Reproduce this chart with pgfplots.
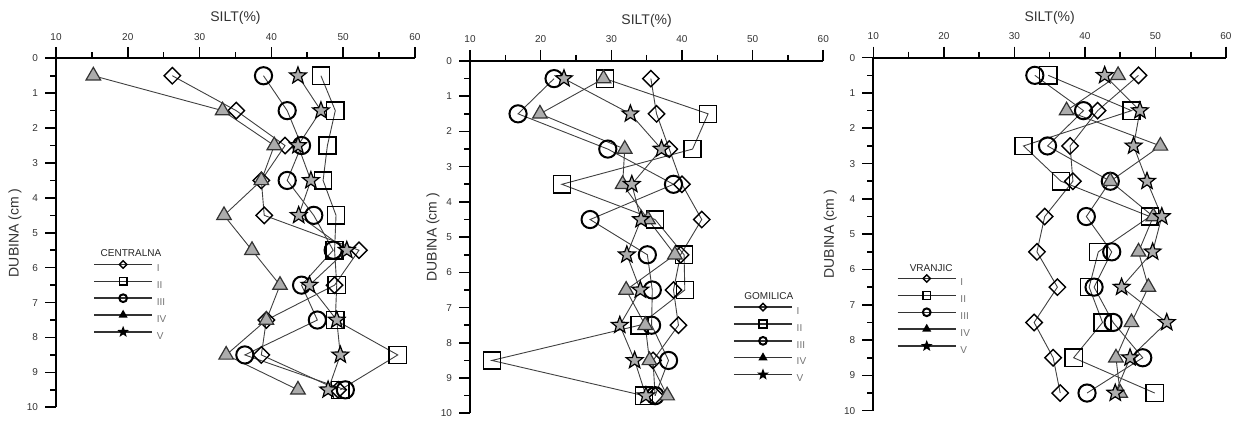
\documentclass[border=0pt]{standalone}
\usepackage{fontspec}
\setmainfont{Liberation Sans}
\usepackage{pgfplots}
\pgfplotsset{compat=1.18}
\usepackage{pgfplotstable}
\usetikzlibrary{plotmarks}

\pgfdeclareplotmark{fivestar}{%
  \pgfpathmoveto{\pgfpointpolar{90}{\pgfplotmarksize}}%
  \pgfpathlineto{\pgfpointpolar{126}{0.42\pgfplotmarksize}}%
  \pgfpathlineto{\pgfpointpolar{162}{\pgfplotmarksize}}%
  \pgfpathlineto{\pgfpointpolar{198}{0.42\pgfplotmarksize}}%
  \pgfpathlineto{\pgfpointpolar{234}{\pgfplotmarksize}}%
  \pgfpathlineto{\pgfpointpolar{270}{0.42\pgfplotmarksize}}%
  \pgfpathlineto{\pgfpointpolar{306}{\pgfplotmarksize}}%
  \pgfpathlineto{\pgfpointpolar{342}{0.42\pgfplotmarksize}}%
  \pgfpathlineto{\pgfpointpolar{18}{\pgfplotmarksize}}%
  \pgfpathlineto{\pgfpointpolar{54}{0.42\pgfplotmarksize}}%
  \pgfpathclose
  \pgfusepathqfillstroke
}

\pgfplotstableread{
d I II III IV V
0.5 26.2 46.9 38.9 15.2 43.7
1.5 35.1 48.9 42.2 33.2 46.9
2.5 41.9 47.8 44.2 40.4 43.7
3.5 38.6 47.2 42.2 38.6 45.5
4.5 39.0 49.0 45.9 33.4 43.8
5.5 52.2 48.8 48.6 37.3 50.5
6.5 48.8 49.1 44.2 41.2 45.3
7.5 39.3 48.9 46.4 39.3 49.1
8.5 38.6 57.6 36.3 33.7 49.6
9.5 49.3 49.6 50.3 43.7 47.9
}\tcen

\pgfplotstableread{
d I II III IV V
0.5 35.6 29.1 21.9 28.9 23.3
1.5 36.4 43.7 16.8 19.9 32.7
2.5 38.2 41.5 29.5 31.9 37.1
3.5 40.0 23.0 38.8 31.6 32.9
4.5 42.8 36.2 27.0 35.2 34.2
5.5 39.8 40.3 35.1 39.0 32.2
6.5 38.8 40.4 35.8 32.1 34.1
7.5 39.5 34.0 35.7 34.8 31.2
8.5 35.9 13.1 38.1 35.4 33.3
9.5 36.2 34.6 36.2 37.9 34.9
}\tgom

\pgfplotstableread{
d I II III IV V
0.5 47.6 34.8 32.9 44.7 42.8
1.5 41.8 46.6 39.8 37.4 47.8
2.5 37.9 31.3 34.7 50.7 46.9
3.5 38.3 36.6 43.6 43.6 48.8
4.5 34.3 49.2 40.2 49.7 50.9
5.5 33.2 41.9 43.8 47.6 49.6
6.5 36.1 40.6 41.3 49.0 45.2
7.5 32.8 42.5 44.0 46.6 51.6
8.5 35.5 38.4 48.2 44.4 46.4
9.5 36.5 49.9 40.3 45.0 44.3
}\tvra

\pgfplotsset{
  silt/.style={
    scale only axis,
    y dir=reverse,
    xmin=10, xmax=60, ymin=0, ymax=10,
    axis x line=top, axis y line=left,
    axis line style={-, line width=0.9pt, black},
    xtick={10,20,...,60}, minor x tick num=1,
    ytick={0,1,...,10}, minor y tick num=1,
    tick align=outside,
    major tick length=5.5pt, minor tick length=3pt,
    every tick/.style={black, line width=0.8pt},
    tick label style={font=\fontsize{5}{6}\selectfont, text=black!80},
    /pgf/number format/assume math mode=true,
    clip=false,
    legend cell align=left,
    legend style={draw=none, fill=none, inner sep=0pt,
      font=\fontsize{5}{6}\selectfont, text=black!55,
      row sep=2.4pt, column sep=1.5pt,
      nodes={inner sep=0.5pt, text height=3.6pt, text depth=0pt}},
    legend image code/.code={%
      \draw[##1, black!80, line width=0.75pt, mark repeat=2, mark phase=2, every mark/.append style={scale=0.45}]
        plot coordinates {(0pt,1.8pt) (14.5pt,1.8pt) (29pt,1.8pt)};},
  },
  pI/.style={black!75, line width=0.45pt, mark=square, mark size=2.9pt,
    mark options={rotate=45, draw=black, fill=none, line width=0.7pt, solid}},
  pII/.style={black!75, line width=0.45pt, mark=square, mark size=4.3pt,
    mark options={draw=black, fill=none, line width=0.7pt, solid}},
  pIII/.style={black!75, line width=0.45pt, mark=o, mark size=4.3pt,
    mark options={draw=black, fill=none, line width=1pt, solid}},
  pIV/.style={black!75, line width=0.45pt, mark=triangle*, mark size=4.2pt,
    mark options={draw=black!80, fill=gray!65, line width=0.6pt, solid},
    legend image post style={mark options={draw=black, fill=black, solid}}},
  pV/.style={black!75, line width=0.45pt, mark=fivestar, mark size=4.4pt,
    mark options={draw=black, fill=gray!65, line width=0.6pt, solid},
    legend image post style={mark options={draw=black, fill=black, solid}}},
}

\begin{document}
\begin{tikzpicture}
\useasboundingbox (0,0) rectangle (619.5pt,210.5pt);

% Panel 1
\begin{axis}[silt, name=ax1, at={(28pt,6.85pt)}, anchor=south west,
  width=179.5pt, height=174.5pt,
  legend style={at={(axis cs:15.15,5.79)}, anchor=north west}]
\addplot[pI] table[x=I, y=d] {\tcen}; \addlegendentry{I}
\addplot[pII] table[x=II, y=d] {\tcen}; \addlegendentry{II}
\addplot[pIII] table[x=III, y=d] {\tcen}; \addlegendentry{III}
\addplot[pIV] table[x=IV, y=d] {\tcen}; \addlegendentry{IV}
\addplot[pV] table[x=V, y=d] {\tcen}; \addlegendentry{V}
\node[font=\fontsize{5}{6}\selectfont, text=black!85] at (axis cs:20.45,5.58) {CENTRALNA};
\end{axis}

% Panel 2
\begin{axis}[silt, name=ax2, at={(235pt,3.85pt)}, anchor=south west,
  width=176.65pt, height=176.15pt,
  legend style={at={(axis cs:47.2,6.87)}, anchor=north west}]
\addplot[pI] table[x=I, y=d] {\tgom}; \addlegendentry{I}
\addplot[pII] table[x=II, y=d] {\tgom}; \addlegendentry{II}
\addplot[pIII] table[x=III, y=d] {\tgom}; \addlegendentry{III}
\addplot[pIV] table[x=IV, y=d] {\tgom}; \addlegendentry{IV}
\addplot[pV] table[x=V, y=d] {\tgom}; \addlegendentry{V}
\node[font=\fontsize{5}{6}\selectfont, text=black!85] at (axis cs:52.3,6.67) {GOMILICA};
\end{axis}

% Panel 3
\begin{axis}[silt, name=ax3, at={(436.65pt,5.15pt)}, anchor=south west,
  width=176.35pt, height=176.5pt,
  legend style={at={(axis cs:13.3,6.14)}, anchor=north west}]
\addplot[pI] table[x=I, y=d] {\tvra}; \addlegendentry{I}
\addplot[pII] table[x=II, y=d] {\tvra}; \addlegendentry{II}
\addplot[pIII] table[x=III, y=d] {\tvra}; \addlegendentry{III}
\addplot[pIV] table[x=IV, y=d] {\tvra}; \addlegendentry{IV}
\addplot[pV] table[x=V, y=d] {\tvra}; \addlegendentry{V}
\node[font=\fontsize{5}{6}\selectfont, text=black!85] at (axis cs:18.2,5.96) {VRANJIC};
\end{axis}

\foreach \a/\dx in {ax1/20.5pt, ax2/18.5pt, ax3/21.5pt}{
  \node[font=\fontsize{7}{8}\selectfont, text=black!80] at ([yshift=20pt]\a.north) {SILT(\%)};
  \node[font=\fontsize{7}{8}\selectfont, text=black!80, rotate=90] at ([xshift=-\dx]\a.west) {DUBINA (cm )};
}
\end{tikzpicture}
\end{document}
